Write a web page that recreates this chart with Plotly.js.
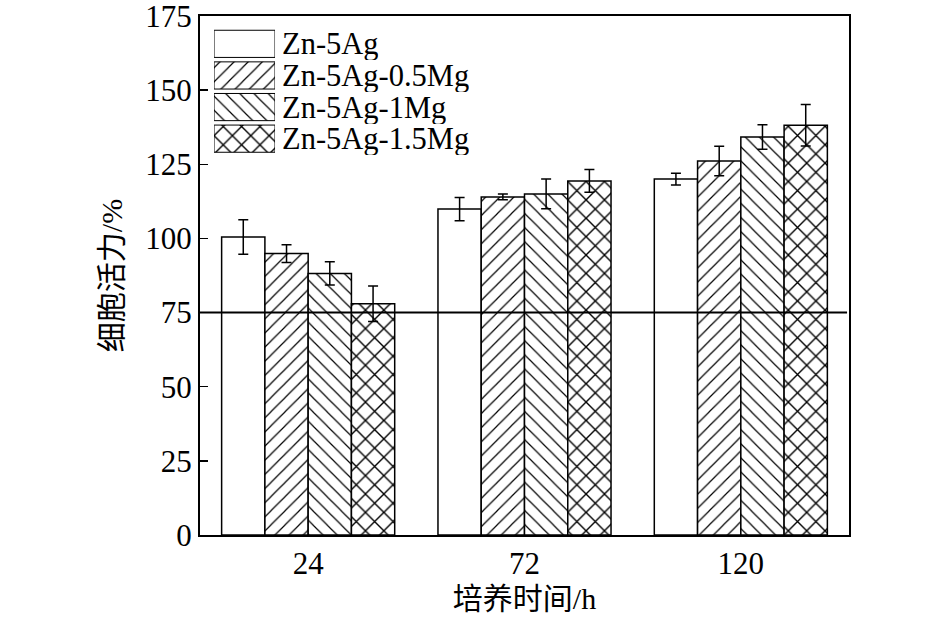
<!DOCTYPE html>
<html>
<head>
<meta charset="utf-8">
<script src="https://cdn.plot.ly/plotly-3.0.1.min.js"></script>
<style>html,body{margin:0;padding:0;background:#fff;}#chart{width:945px;height:625px;}</style>
</head>
<body>
<div id="chart"></div>
<script>
const categories = ['24', '72', '120'];
const seriesNames = ['Zn-5Ag', 'Zn-5Ag-0.5Mg', 'Zn-5Ag-1Mg', 'Zn-5Ag-1.5Mg'];
const valuesZn5Ag = [100.5, 109.9, 120.0];
const values05Mg = [94.9, 114.0, 126.1];
const values1Mg = [88.2, 115.0, 134.2];
const values15Mg = [78.0, 119.4, 138.2];
const errZn5Ag = [5.8, 3.9, 2.0];
const err05Mg = [3.0, 1.0, 5.0];
const err1Mg = [3.9, 5.0, 4.1];
const err15Mg = [6.0, 3.8, 7.0];
const yTickValues = [0, 25, 50, 75, 100, 125, 150, 175];
const referenceLevel = 75;
const xTitle = '培养时间/h';
const yTitle = '细胞活力/%';

const patterns = ['', '/', '\\', 'x'];
const patternSizes = [10, 10, 10, 13];
const patternSolidity = [0.12, 0.12, 0.12, 0.2];
const allValues = [valuesZn5Ag, values05Mg, values1Mg, values15Mg];
const allErrors = [errZn5Ag, err05Mg, err1Mg, err15Mg];
const fontFam = '"Liberation Serif", "Times New Roman", "Noto Sans CJK SC", serif';

const traces = seriesNames.map((name, i) => ({
  type: 'bar',
  name: name,
  x: categories,
  y: allValues[i],
  showlegend: false,
  marker: {
    color: '#ffffff',
    line: {color: '#000000', width: 1.5},
    pattern: {shape: patterns[i], size: patternSizes[i], solidity: patternSolidity[i], fgcolor: '#000000', bgcolor: '#ffffff'}
  },
  error_y: {type: 'data', array: allErrors[i], visible: true, color: '#000000', thickness: 1.5, width: 5}
}));

// legend swatches drawn as bars on an auxiliary axis
traces.push({
  type: 'bar',
  orientation: 'h',
  xaxis: 'x2',
  yaxis: 'y2',
  y: seriesNames,
  x: seriesNames.map(() => 1),
  width: seriesNames.map(() => 0.86),
  showlegend: false,
  hoverinfo: 'skip',
  marker: {
    color: '#ffffff',
    line: {color: '#000000', width: 1},
    pattern: {shape: patterns, size: patternSizes, solidity: patternSolidity, fgcolor: '#000000', bgcolor: '#ffffff'}
  }
});

const legendLabels = seriesNames.map(name => ({
  xref: 'x2', yref: 'y2', x: 1, y: name,
  xanchor: 'left', yanchor: 'middle', xshift: 5,
  height: 33, valign: 'middle',
  text: name, showarrow: false,
  font: {size: 30.5, family: fontFam, color: '#000000'}
}));

const layout = {
  width: 945,
  height: 625,
  margin: {l: 200, r: 96, t: 16, b: 90},
  paper_bgcolor: '#ffffff',
  plot_bgcolor: '#ffffff',
  font: {family: fontFam, color: '#000000', size: 30},
  barmode: 'group',
  bargap: 0.2,
  bargroupgap: 0,
  showlegend: false,
  xaxis: {
    type: 'category',
    categoryarray: categories,
    showline: true, linecolor: '#000000', linewidth: 2, mirror: true,
    ticks: '', showgrid: false, zeroline: false,
    tickfont: {size: 31, family: fontFam},
    title: {text: xTitle, font: {size: 30, family: fontFam}, standoff: 8}
  },
  yaxis: {
    range: [0, 175], tickmode: 'array', tickvals: yTickValues,
    ticktext: yTickValues.map(String),
    ticklabeloverflow: 'allow',
    showline: true, linecolor: '#000000', linewidth: 2, mirror: true,
    ticks: 'inside', ticklen: 8, tickwidth: 1.5, tickcolor: '#000000',
    showgrid: false, zeroline: false,
    tickfont: {size: 31, family: fontFam},
    title: {text: yTitle, font: {size: 30, family: fontFam}, standoff: 14}
  },
  xaxis2: {domain: [0.0216, 0.1156], anchor: 'y2', range: [0, 1], visible: false, fixedrange: true},
  yaxis2: {
    domain: [0.728, 0.982], anchor: 'x2', type: 'category',
    categoryarray: seriesNames.slice().reverse(),
    visible: false
  },
  annotations: legendLabels,
  shapes: [{
    type: 'line', xref: 'paper', yref: 'y',
    x0: 0, x1: 0.997, y0: referenceLevel, y1: referenceLevel,
    line: {color: '#000000', width: 2}
  }]
};

Plotly.newPlot('chart', traces, layout, {staticPlot: true, displayModeBar: false});
</script>
</body>
</html>
